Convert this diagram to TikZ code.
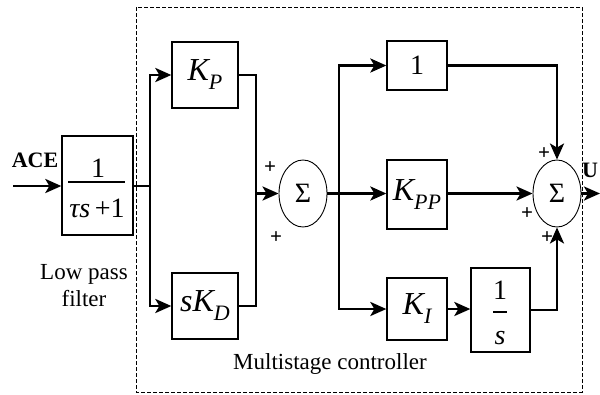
\documentclass[tikz,border=0pt]{standalone}
\usepackage{fontspec}
\setmainfont{Liberation Serif}
\usetikzlibrary{arrows.meta,shapes.geometric}

\newcommand\ptsize[1]{\fontsize{#1}{#1}\selectfont}
% italic symbol with a lowered italic index
\newcommand\gainsym[2]{{\itshape #1\raisebox{-9pt}{\ptsize{22}#2}}}

\tikzset{
  blk/.style={draw, line width=1.3pt, inner sep=0pt, font=\ptsize{32}},
  sumnode/.style={draw, ellipse, line width=0.9pt, inner sep=0pt,
                  minimum width=48pt, minimum height=67pt, font=\ptsize{28}},
  wire/.style={line width=2.8pt},
  sig/.style={wire, -{Stealth[length=16pt,width=14pt,inset=4pt]}},
  sgn/.style={font=\bfseries\ptsize{21}, inner sep=0pt},
  lbl/.style={font=\ptsize{23}, inner sep=0pt},
}

\begin{document}
\begin{tikzpicture}[x=1pt, y=-1pt]
  \useasboundingbox (0,0) rectangle (600,394);

  % controller frame
  \draw[line width=0.8pt, dash pattern=on 4pt off 2pt] (136,7) rectangle (582,392);

  % blocks
  \node[blk, minimum width=71pt, minimum height=99pt] (lpf) at (97.5,185.5) {};
  \node[font=\ptsize{28}, inner sep=0pt] (lpfnum) at (98,168) {1};
  \node[font=\ptsize{28}, inner sep=0pt] (lpfden) at (97,208) {\itshape τs\,\upshape+1};
  \draw[line width=1.3pt] (68,182) -- (125,182);

  \node[blk, minimum width=66pt, minimum height=66pt] (kp)  at (205,75)  {\gainsym{K}{P}};
  \node[blk, minimum width=66pt, minimum height=66pt] (skd) at (205,306) {\gainsym{sK}{D}};
  \node[blk, minimum width=60pt, minimum height=49pt, font=\ptsize{28}] (one) at (417,65.5) {1};
  \node[blk, minimum width=60pt, minimum height=69pt] (kpp) at (417,194.5) {\gainsym{K}{PP}};
  \node[blk, minimum width=60pt, minimum height=62pt] (ki)  at (417,309) {\gainsym{K}{I}};
  \node[blk, minimum width=59pt, minimum height=84pt] (inv) at (500.5,310) {};
  \node[font=\ptsize{28}, inner sep=0pt] (invnum) at (500,290) {1};
  \node[font=\ptsize{28}, inner sep=0pt] (invden) at (500,338) {\itshape s};
  \draw[line width=1.3pt] (493,312) -- (507,312);

  \node[sumnode] (s1) at (303,193.5) {Σ};
  \node[sumnode] (s2) at (557,193.5) {Σ};

  % branch points and free ends
  \coordinate (ace) at (13,186);
  \coordinate (j1) at (150,186);
  \coordinate (j2) at (256,193.5);
  \coordinate (j3) at (339,193.5);
  \coordinate (out) at (600,193.5);

  % connectors
  \draw[sig] (ace) -- (lpf.west |- ace);
  \draw[wire] (lpf.east |- j1) -- (j1);
  \draw[sig] (j1) |- (kp.west);
  \draw[sig] (j1) |- (skd.west);
  \draw[wire] (kp.east) -| (j2);
  \draw[wire] (skd.east) -| (j2);
  \draw[sig] (j2) -- (s1.west);
  \draw[wire] (s1.east) -- (j3);
  \draw[sig] (j3) -- (kpp.west |- j3);
  \draw[sig] (j3) |- (one.west);
  \draw[sig] (j3) |- (ki.west);
  \draw[sig] (one.east) -| (s2.north);
  \draw[sig] (kpp.east |- s2) -- (s2.west);
  \draw[sig] (ki.east) -- (inv.west |- ki.east);
  \draw[sig] (inv.east) -| (s2.south);
  \draw[sig] (s2.east) -- (out);

  % signs
  \node[sgn] at (270,168) {+};
  \node[sgn] at (276,238) {+};
  \node[sgn] at (544,154) {+};
  \node[sgn] at (527,214) {+};
  \node[sgn] at (547,238) {+};

  % labels
  \node[font=\bfseries\ptsize{22}, inner sep=0pt] (acelbl) at (35,160) {ACE};
  \node[font=\bfseries\ptsize{22}, inner sep=0pt] (ulbl) at (590,170) {U};
  \node[lbl, align=center] (lpflbl) at (84,286) {Low pass\\[4pt]filter};
  \node[lbl] (mslbl) at (330,364) {Multistage controller};
\end{tikzpicture}
\end{document}
